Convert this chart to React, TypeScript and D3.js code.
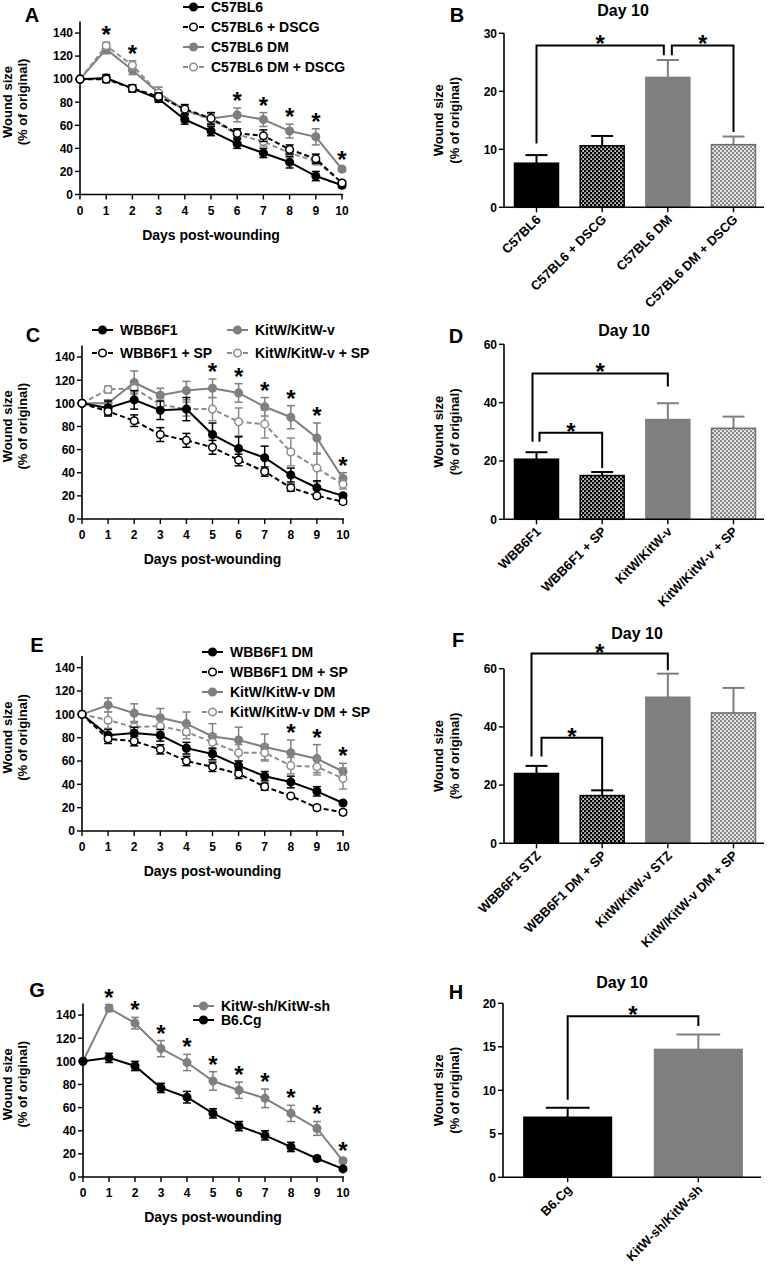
import React from 'react';
import * as d3 from 'd3';

const FONT = '"Liberation Sans", Arial, Helvetica, sans-serif';
const BLACK = '#000000';
const GREY = '#7f7f7f';
const GREY_DASH = '#8c8c8c';

// ---- shared axes ----
const days = [0, 1, 2, 3, 4, 5, 6, 7, 8, 9, 10];
const lineTicks = [0, 20, 40, 60, 80, 100, 120, 140];

// ---- panel A ----
const aC57 = [100, 101, 92, 83, 65, 55, 44, 36, 28, 16, 8];
const aC57Err = [0, 3, 3, 3, 4, 4, 4, 4, 5, 4, 2];
const aDSCG = [100, 100, 92, 85, 74, 66, 53, 51, 39, 31, 10];
const aDSCGErr = [0, 3, 3, 3, 4, 5, 4, 5, 4, 4, 2];
const aDM = [100, 126, 108, 88, 73, 66, 69, 65, 55, 50, 22];
const aDMErr = [0, 4, 4, 5, 4, 5, 6, 6, 6, 7, 2];
const aDMDSCG = [100, 129, 112, 88, 73, 65, 52, 46, 36, 29, 10];
const aDMDSCGErr = [0, 3, 4, 5, 4, 5, 4, 4, 4, 3, 2];
const aStars = [1, 2, 6, 7, 8, 9, 10];

// ---- panel C ----
const cWBB = [100, 96, 103, 94, 95, 73, 61, 53, 38, 27, 20];
const cWBBErr = [0, 6, 8, 8, 10, 10, 10, 10, 6, 6, 2];
const cWBBSP = [100, 93, 85, 73, 68, 62, 51, 41, 27, 20, 15];
const cWBBSPErr = [0, 4, 5, 6, 6, 6, 5, 4, 3, 2, 2];
const cKit = [100, 100, 118, 107, 111, 113, 109, 97, 88, 70, 35];
const cKitErr = [0, 3, 10, 6, 8, 8, 8, 8, 10, 13, 5];
const cKitSP = [100, 112, 113, 99, 95, 95, 84, 82, 58, 44, 30];
const cKitSPErr = [0, 3, 4, 5, 6, 10, 12, 12, 12, 12, 4];
const cStars = [5, 6, 7, 8, 9, 10];

// ---- panel E ----
const eWBB = [100, 82, 84, 82, 71, 66, 56, 47, 42, 34, 24];
const eWBBErr = [0, 5, 5, 5, 5, 5, 4, 4, 5, 4, 1];
const eWBBSP = [100, 79, 77, 70, 60, 55, 49, 38, 30, 20, 16];
const eWBBSPErr = [0, 4, 4, 4, 4, 4, 4, 3, 1, 2, 2];
const eKit = [100, 108, 101, 97, 92, 81, 78, 72, 67, 62, 51];
const eKitErr = [0, 6, 8, 8, 10, 11, 11, 11, 11, 12, 7];
const eKitSP = [100, 95, 89, 90, 85, 76, 67, 67, 56, 55, 45];
const eKitSPErr = [0, 7, 5, 5, 6, 7, 7, 7, 7, 7, 9];
const eStars = [8, 9, 10];

// ---- panel G ----
const gKitSh = [100, 146, 133, 111, 99, 83, 75, 68, 55, 42, 14];
const gKitShErr = [0, 3, 5, 7, 7, 8, 7, 8, 7, 6, 2];
const gB6 = [100, 103, 96, 77, 69, 55, 44, 36, 26, 16, 7];
const gB6Err = [0, 4, 4, 4, 5, 4, 4, 4, 4, 2, 1];
const gStars = [1, 2, 3, 4, 5, 6, 7, 8, 9, 10];

// ---- bar panels (day 10) ----
const bCats = ['C57BL6', 'C57BL6 + DSCG', 'C57BL6 DM', 'C57BL6 DM + DSCG'];
const bVals = [7.6, 10.6, 22.4, 10.8];
const bErrs = [1.4, 1.7, 3.0, 1.4];
const bTicks = [0, 10, 20, 30];
// [from, to, top, end at from, end at to]
const bBrackets = [[0, 2, 27.9, 11, 26.2], [2, 3, 27.9, 26.2, 13]];

const dCats = ['WBB6F1', 'WBB6F1 + SP', 'KitW/KitW-v', 'KitW/KitW-v + SP'];
const dVals = [20.6, 15.0, 34.2, 31.2];
const dErrs = [2.4, 1.2, 5.6, 4.0];
const dTicks = [0, 20, 40, 60];
const dBrackets = [[0, 2, 50, 26.6, 45.5], [0, 1, 29.7, 26.6, 17.6]];

const fCats = ['WBB6F1 STZ', 'WBB6F1 DM + SP', 'KitW/KitW-v STZ', 'KitW/KitW-v DM + SP'];
const fVals = [24.0, 16.4, 50.2, 44.8];
const fErrs = [2.6, 1.8, 8.1, 8.6];
const fTicks = [0, 20, 40, 60];
const fBrackets = [[0, 2, 65.2, 29.8, 59.5], [0, 1, 36.3, 29.8, 18.3]];

const hCats = ['B6.Cg', 'KitW-sh/KitW-sh'];
const hVals = [6.9, 14.7];
const hErrs = [1.1, 1.7];
const hTicks = [0, 5, 10, 15, 20];
const hBrackets = [[0, 1, 18.5, 8.9, 17.4]];

type Series = {
  name: string;
  values: number[];
  err: number[];
  color: string;
  dashed: boolean;
  open: boolean;
  legend: [number, number];
};

function YTitle({ x1, x2, cy, size }: { x1: number; x2: number; cy: number; size: number }) {
  return (
    <g fontSize={size}>
      <text transform={`translate(${x1},${cy}) rotate(-90)`} textAnchor="middle">Wound size</text>
      <text transform={`translate(${x2},${cy}) rotate(-90)`} textAnchor="middle">(% of original)</text>
    </g>
  );
}

function LinePanel(props: {
  letter: string;
  letterPos: [number, number];
  xRange: [number, number];
  yRange: [number, number];
  series: Series[];
  stars: number[];
}) {
  const { letter, letterPos, xRange, yRange, series, stars } = props;
  const x = d3.scaleLinear().domain([0, 10]).range(xRange);
  const y = d3.scaleLinear().domain([0, 150]).range(yRange);
  const y0 = y(0);
  const line = d3.line<number>().x((_, i) => x(days[i])).y((d) => y(d));
  // grey series underneath, black on top
  const drawOrder = [...series].sort(
    (a, b) => (a.color === BLACK ? 1 : 0) - (b.color === BLACK ? 1 : 0)
  );

  return (
    <g fontFamily={FONT} fontWeight="bold" fill={BLACK}>
      <text x={letterPos[0]} y={letterPos[1]} fontSize={20} textAnchor="middle">{letter}</text>
      <YTitle x1={12} x2={27} cy={(y(0) + y(150)) / 2 - 6} size={13} />

      {/* axes */}
      <line x1={xRange[0]} x2={xRange[0]} y1={y0} y2={y(150)} stroke={BLACK} strokeWidth={1.6} />
      <line x1={xRange[0]} x2={xRange[1] + 1} y1={y0} y2={y0} stroke={BLACK} strokeWidth={1.6} />
      {lineTicks.map((t) => (
        <g key={t}>
          <line x1={xRange[0] - 5} x2={xRange[0]} y1={y(t)} y2={y(t)} stroke={BLACK} strokeWidth={1.4} />
          <text x={xRange[0] - 7} y={y(t) + 4.3} fontSize={12} textAnchor="end">{t}</text>
        </g>
      ))}
      {days.map((d) => (
        <g key={d}>
          <line x1={x(d)} x2={x(d)} y1={y0} y2={y0 + 5} stroke={BLACK} strokeWidth={1.4} />
          <text x={x(d)} y={y0 + 20} fontSize={12} textAnchor="middle">{d}</text>
        </g>
      ))}
      <text x={(xRange[0] + xRange[1]) / 2} y={y0 + 45} fontSize={14} textAnchor="middle">
        Days post-wounding
      </text>

      {/* series */}
      {drawOrder.map((s) => (
        <g key={s.name}>
          <path
            d={line(s.values) ?? ''}
            fill="none"
            stroke={s.color}
            strokeWidth={2}
            strokeDasharray={s.dashed ? '5,3' : undefined}
          />
          {s.values.map((v, i) =>
            s.err[i] > 0 ? (
              <g key={i} stroke={s.color} strokeWidth={1.5}>
                <line x1={x(days[i])} x2={x(days[i])} y1={y(v - s.err[i])} y2={y(v + s.err[i])} />
                <line x1={x(days[i]) - 4} x2={x(days[i]) + 4} y1={y(v + s.err[i])} y2={y(v + s.err[i])} />
                <line x1={x(days[i]) - 4} x2={x(days[i]) + 4} y1={y(v - s.err[i])} y2={y(v - s.err[i])} />
              </g>
            ) : null
          )}
          {s.values.map((v, i) => (
            <circle
              key={'m' + i}
              cx={x(days[i])}
              cy={y(v)}
              r={3.8}
              fill={s.open ? '#ffffff' : s.color}
              stroke={s.color}
              strokeWidth={1.5}
            />
          ))}
        </g>
      ))}

      {/* significance */}
      {stars.map((d) => {
        const top = d3.max(series, (s) => s.values[d] + s.err[d]) ?? 0;
        return (
          <text key={d} x={x(d)} y={y(top) + 1} fontSize={24} textAnchor="middle">*</text>
        );
      })}

      {/* legend */}
      {series.map((s) => (
        <g key={'lg' + s.name}>
          <line
            x1={s.legend[0]}
            x2={s.legend[0] + 21}
            y1={s.legend[1]}
            y2={s.legend[1]}
            stroke={s.color}
            strokeWidth={2}
            strokeDasharray={s.dashed ? '5,3' : undefined}
          />
          <circle
            cx={s.legend[0] + 10.5}
            cy={s.legend[1]}
            r={3.8}
            fill={s.open ? '#ffffff' : s.color}
            stroke={s.color}
            strokeWidth={1.5}
          />
          <text x={s.legend[0] + 28} y={s.legend[1] + 5} fontSize={14}>{s.name}</text>
        </g>
      ))}
    </g>
  );
}

type BarStyle = { fill: string; stroke: string; err: string };
const STYLE_BLACK: BarStyle = { fill: BLACK, stroke: BLACK, err: BLACK };
const STYLE_DARK_CHECK: BarStyle = { fill: 'url(#darkCheck)', stroke: BLACK, err: BLACK };
const STYLE_GREY: BarStyle = { fill: GREY, stroke: GREY, err: GREY };
const STYLE_LIGHT_CHECK: BarStyle = { fill: 'url(#lightCheck)', stroke: '#6e6e6e', err: GREY };

function BarPanel(props: {
  letter: string;
  letterPos: [number, number];
  titlePos: [number, number];
  cats: string[];
  vals: number[];
  errs: number[];
  ticks: number[];
  styles: BarStyle[];
  xRange: [number, number];
  yRange: [number, number];
  brackets: number[][];
  bracketDx: [number, number][];
}) {
  const { letter, letterPos, titlePos, cats, vals, errs, ticks, styles, xRange, yRange, brackets, bracketDx } = props;
  const x = d3.scaleBand<string>().domain(cats).range(xRange).paddingInner(0.33).paddingOuter(0.16);
  const y = d3.scaleLinear().domain([0, ticks[ticks.length - 1]]).range(yRange);
  const bw = x.bandwidth();
  const cx = (i: number) => (x(cats[i]) ?? 0) + bw / 2;
  const y0 = y(0);

  return (
    <g fontFamily={FONT} fontWeight="bold" fill={BLACK}>
      <text x={letterPos[0]} y={letterPos[1]} fontSize={20} textAnchor="middle">{letter}</text>
      <text x={titlePos[0]} y={titlePos[1]} fontSize={16} textAnchor="middle">Day 10</text>
      <YTitle x1={443} x2={459} cy={(yRange[0] + yRange[1]) / 2} size={13} />

      {cats.map((c, i) => {
        const st = styles[i];
        const bx = x(c) ?? 0;
        const top = y(vals[i]);
        const et = y(vals[i] + errs[i]);
        return (
          <g key={c}>
            <line x1={cx(i)} x2={cx(i)} y1={top} y2={et} stroke={st.err} strokeWidth={2} />
            <line x1={cx(i) - bw / 4} x2={cx(i) + bw / 4} y1={et} y2={et} stroke={st.err} strokeWidth={2} />
            <rect x={bx} y={top} width={bw} height={y0 - top} fill={st.fill} stroke={st.stroke} strokeWidth={1.5} />
          </g>
        );
      })}

      <line x1={xRange[0]} x2={xRange[0]} y1={y0} y2={yRange[1]} stroke={BLACK} strokeWidth={1.6} />
      <line x1={xRange[0]} x2={xRange[1] - 2} y1={y0} y2={y0} stroke={BLACK} strokeWidth={1.6} />
      {ticks.map((t) => (
        <g key={t}>
          <line x1={xRange[0] - 5} x2={xRange[0]} y1={y(t)} y2={y(t)} stroke={BLACK} strokeWidth={1.4} />
          <text x={xRange[0] - 7} y={y(t) + 4.3} fontSize={12} textAnchor="end">{t}</text>
        </g>
      ))}
      {cats.map((c, i) => (
        <g key={'t' + c}>
          <line x1={cx(i)} x2={cx(i)} y1={y0} y2={y0 + 5} stroke={BLACK} strokeWidth={1.4} />
          <text transform={`translate(${cx(i) + 5},${y0 + 13}) rotate(-45)`} fontSize={13} textAnchor="end">
            {c}
          </text>
        </g>
      ))}

      {brackets.map((b, k) => {
        const xa = cx(b[0]) + bracketDx[k][0];
        const xb = cx(b[1]) + bracketDx[k][1];
        const path = d3.path();
        path.moveTo(xa, y(b[3]));
        path.lineTo(xa, y(b[2]));
        path.lineTo(xb, y(b[2]));
        path.lineTo(xb, y(b[4]));
        return (
          <g key={'br' + k}>
            <path d={path.toString()} fill="none" stroke={BLACK} strokeWidth={2} />
            <text x={(xa + xb) / 2} y={y(b[2]) + 7} fontSize={24} textAnchor="middle">*</text>
          </g>
        );
      })}
    </g>
  );
}

export default function App() {
  const aSeries: Series[] = [
    { name: 'C57BL6', values: aC57, err: aC57Err, color: BLACK, dashed: false, open: false, legend: [183, 7] },
    { name: 'C57BL6 + DSCG', values: aDSCG, err: aDSCGErr, color: BLACK, dashed: true, open: true, legend: [183, 27] },
    { name: 'C57BL6 DM', values: aDM, err: aDMErr, color: GREY, dashed: false, open: false, legend: [183, 47] },
    { name: 'C57BL6 DM + DSCG', values: aDMDSCG, err: aDMDSCGErr, color: GREY_DASH, dashed: true, open: true, legend: [183, 67] },
  ];
  const cSeries: Series[] = [
    { name: 'WBB6F1', values: cWBB, err: cWBBErr, color: BLACK, dashed: false, open: false, legend: [92, 330] },
    { name: 'WBB6F1 + SP', values: cWBBSP, err: cWBBSPErr, color: BLACK, dashed: true, open: true, legend: [92, 353] },
    { name: 'KitW/KitW-v', values: cKit, err: cKitErr, color: GREY, dashed: false, open: false, legend: [227, 330] },
    { name: 'KitW/KitW-v + SP', values: cKitSP, err: cKitSPErr, color: GREY_DASH, dashed: true, open: true, legend: [227, 353] },
  ];
  const eSeries: Series[] = [
    { name: 'WBB6F1 DM', values: eWBB, err: eWBBErr, color: BLACK, dashed: false, open: false, legend: [202, 652] },
    { name: 'WBB6F1 DM + SP', values: eWBBSP, err: eWBBSPErr, color: BLACK, dashed: true, open: true, legend: [202, 672] },
    { name: 'KitW/KitW-v DM', values: eKit, err: eKitErr, color: GREY, dashed: false, open: false, legend: [202, 692] },
    { name: 'KitW/KitW-v DM + SP', values: eKitSP, err: eKitSPErr, color: GREY_DASH, dashed: true, open: true, legend: [202, 712] },
  ];
  const gSeries: Series[] = [
    { name: 'KitW-sh/KitW-sh', values: gKitSh, err: gKitShErr, color: GREY, dashed: false, open: false, legend: [193, 1006] },
    { name: 'B6.Cg', values: gB6, err: gB6Err, color: BLACK, dashed: false, open: false, legend: [193, 1020] },
  ];
  const fourStyles = [STYLE_BLACK, STYLE_DARK_CHECK, STYLE_GREY, STYLE_LIGHT_CHECK];

  return (
    <svg
      width={769}
      height={1269}
      viewBox="0 0 769 1269"
      style={{ position: 'absolute', left: 0, top: 0, background: '#ffffff' }}
    >
      <defs>
        <pattern id="darkCheck" width={4} height={4} patternUnits="userSpaceOnUse">
          <rect width={4} height={4} fill="#000000" />
          <rect x={0.3} y={0.3} width={1.6} height={1.6} fill="#ffffff" />
          <rect x={2.3} y={2.3} width={1.6} height={1.6} fill="#ffffff" />
        </pattern>
        <pattern id="lightCheck" width={4} height={4} patternUnits="userSpaceOnUse">
          <rect width={4} height={4} fill="#e4e4e4" />
          <rect x={0} y={0} width={2} height={2} fill="#888888" />
          <rect x={2} y={2} width={2} height={2} fill="#888888" />
        </pattern>
      </defs>
      <rect width={769} height={1269} fill="#ffffff" />

      <LinePanel letter="A" letterPos={[32, 22]} xRange={[80, 342]} yRange={[194.5, 21.5]} series={aSeries} stars={aStars} />
      <LinePanel letter="C" letterPos={[33, 342]} xRange={[82, 343]} yRange={[519, 345.5]} series={cSeries} stars={cStars} />
      <LinePanel letter="E" letterPos={[37, 652]} xRange={[82, 343]} yRange={[831, 656]} series={eSeries} stars={eStars} />
      <LinePanel letter="G" letterPos={[37, 997]} xRange={[83, 343]} yRange={[1177, 1003.5]} series={gSeries} stars={gStars} />

      <BarPanel
        letter="B" letterPos={[457, 22]} titlePos={[623, 16]}
        cats={bCats} vals={bVals} errs={bErrs} ticks={bTicks} styles={fourStyles}
        xRange={[504, 766]} yRange={[207.3, 33.3]}
        brackets={bBrackets} bracketDx={[[0, -4], [4, 0]]}
      />
      <BarPanel
        letter="D" letterPos={[456, 343]} titlePos={[624, 336]}
        cats={dCats} vals={dVals} errs={dErrs} ticks={dTicks} styles={fourStyles}
        xRange={[504, 766]} yRange={[519.3, 344.3]}
        brackets={dBrackets} bracketDx={[[-4, 0], [3, 0]]}
      />
      <BarPanel
        letter="F" letterPos={[458, 647]} titlePos={[637, 639]}
        cats={fCats} vals={fVals} errs={fErrs} ticks={fTicks} styles={fourStyles}
        xRange={[504, 766]} yRange={[843.3, 668.7]}
        brackets={fBrackets} bracketDx={[[-5, 0], [5, 0]]}
      />
      <BarPanel
        letter="H" letterPos={[456, 999]} titlePos={[622, 988]}
        cats={hCats} vals={hVals} errs={hErrs} ticks={hTicks} styles={[STYLE_BLACK, STYLE_GREY]}
        xRange={[503, 763]} yRange={[1177.3, 1003.3]}
        brackets={hBrackets} bracketDx={[[0, 0]]}
      />
    </svg>
  );
}
